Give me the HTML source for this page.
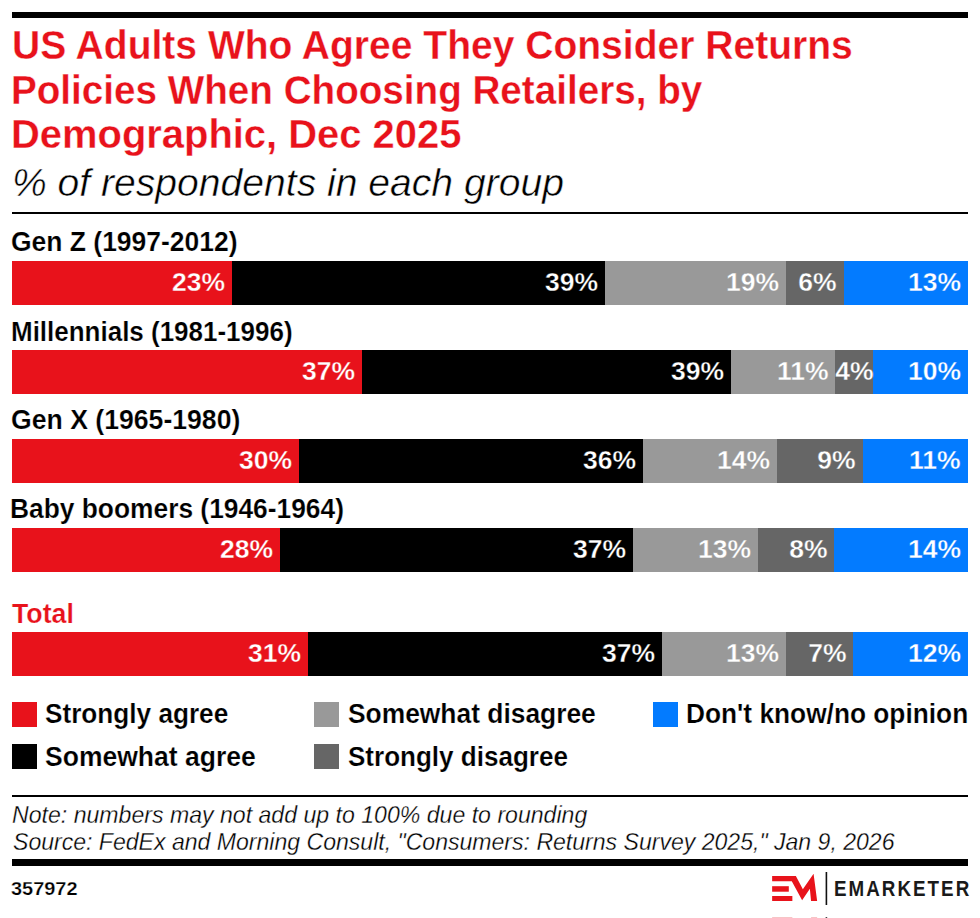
<!DOCTYPE html>
<html><head><meta charset="utf-8"><style>
html,body{margin:0;padding:0;background:#fff;}
body{width:980px;height:918px;position:relative;overflow:hidden;font-family:"Liberation Sans",sans-serif;}
.t{position:absolute;white-space:nowrap;line-height:1;}
.r{position:absolute;}
.p{position:absolute;box-sizing:border-box;color:#fff;font-weight:bold;display:flex;justify-content:flex-end;padding-right:8px;white-space:nowrap;}
.p span{display:block;}
</style></head><body>
<div class="r" style="left:12.00px;top:12.00px;width:956.00px;height:6.00px;background:#000000;"></div>
<div class="t" style="left:11.66px;top:25.26px;font-size:40px;font-weight:bold;font-style:normal;color:#e8121b;transform:scaleX(0.9758);transform-origin:0 0;-webkit-text-stroke:0.3px #fff;">US Adults Who Agree They Consider Returns</div>
<div class="t" style="left:11.41px;top:69.94px;font-size:40px;font-weight:bold;font-style:normal;color:#e8121b;transform:scaleX(0.9658);transform-origin:0 0;-webkit-text-stroke:0.3px #fff;">Policies When Choosing Retailers, by</div>
<div class="t" style="left:11.20px;top:114.34px;font-size:40px;font-weight:bold;font-style:normal;color:#e8121b;transform:scaleX(0.9979);transform-origin:0 0;-webkit-text-stroke:0.3px #fff;">Demographic, Dec 2025</div>
<div class="t" style="left:12.27px;top:164.36px;font-size:38.5px;font-weight:normal;font-style:italic;color:#000;transform:scaleX(1.0152);transform-origin:0 0;-webkit-text-stroke:0.5px #fff;">% of respondents in each group</div>
<div class="r" style="left:12.00px;top:212.00px;width:956.00px;height:1.60px;background:#000000;"></div>
<div class="t" style="left:11.12px;top:229.29px;font-size:27px;font-weight:bold;font-style:normal;color:#000;transform:scaleX(0.9800);transform-origin:0 0;-webkit-text-stroke:0.2px #fff;">Gen Z (1997-2012)</div>
<div class="r" style="left:12.00px;top:261.00px;width:219.88px;height:44.00px;background:#e8121b;"></div>
<div class="r" style="left:231.88px;top:261.00px;width:372.84px;height:44.00px;background:#000000;"></div>
<div class="r" style="left:604.72px;top:261.00px;width:181.64px;height:44.00px;background:#999999;"></div>
<div class="r" style="left:786.36px;top:261.00px;width:57.36px;height:44.00px;background:#666666;"></div>
<div class="r" style="left:843.72px;top:261.00px;width:124.28px;height:44.00px;background:#037bff;"></div>
<div class="p" style="left:12.00px;top:260px;width:219.88px;height:44px;font-size:26px;line-height:44px;justify-content:flex-end;padding-right:7px;"><span style="transform:scaleX(1.02);transform-origin:100% 50%;-webkit-text-stroke:0.35px #e8121b;">23%</span></div>
<div class="p" style="left:231.88px;top:260px;width:372.84px;height:44px;font-size:26px;line-height:44px;justify-content:flex-end;padding-right:7px;"><span style="transform:scaleX(1.02);transform-origin:100% 50%;-webkit-text-stroke:0.35px #000000;">39%</span></div>
<div class="p" style="left:604.72px;top:260px;width:181.64px;height:44px;font-size:26px;line-height:44px;justify-content:flex-end;padding-right:7px;"><span style="transform:scaleX(1.02);transform-origin:100% 50%;-webkit-text-stroke:0.35px #999999;">19%</span></div>
<div class="p" style="left:786.36px;top:260px;width:57.36px;height:44px;font-size:26px;line-height:44px;justify-content:flex-end;padding-right:7px;"><span style="transform:scaleX(1.02);transform-origin:100% 50%;-webkit-text-stroke:0.35px #666666;">6%</span></div>
<div class="p" style="left:843.72px;top:260px;width:124.28px;height:44px;font-size:26px;line-height:44px;justify-content:flex-end;padding-right:7px;"><span style="transform:scaleX(1.02);transform-origin:100% 50%;-webkit-text-stroke:0.35px #037bff;">13%</span></div>
<div class="t" style="left:10.50px;top:318.59px;font-size:27px;font-weight:bold;font-style:normal;color:#000;transform:scaleX(0.9621);transform-origin:0 0;-webkit-text-stroke:0.2px #fff;">Millennials (1981-1996)</div>
<div class="r" style="left:12.00px;top:350.00px;width:350.22px;height:44.00px;background:#e8121b;"></div>
<div class="r" style="left:362.22px;top:350.00px;width:369.15px;height:44.00px;background:#000000;"></div>
<div class="r" style="left:731.37px;top:350.00px;width:104.12px;height:44.00px;background:#999999;"></div>
<div class="r" style="left:835.49px;top:350.00px;width:37.86px;height:44.00px;background:#666666;"></div>
<div class="r" style="left:873.35px;top:350.00px;width:94.65px;height:44.00px;background:#037bff;"></div>
<div class="p" style="left:12.00px;top:349px;width:350.22px;height:44px;font-size:26px;line-height:44px;justify-content:flex-end;padding-right:7px;"><span style="transform:scaleX(1.02);transform-origin:100% 50%;-webkit-text-stroke:0.35px #e8121b;">37%</span></div>
<div class="p" style="left:362.22px;top:349px;width:369.15px;height:44px;font-size:26px;line-height:44px;justify-content:flex-end;padding-right:7px;"><span style="transform:scaleX(1.02);transform-origin:100% 50%;-webkit-text-stroke:0.35px #000000;">39%</span></div>
<div class="p" style="left:731.37px;top:349px;width:104.12px;height:44px;font-size:26px;line-height:44px;justify-content:flex-end;padding-right:7px;"><span style="transform:scaleX(1.02);transform-origin:100% 50%;-webkit-text-stroke:0.35px #999999;">11%</span></div>
<div class="p" style="left:835.49px;top:349px;width:37.86px;height:44px;font-size:26px;line-height:44px;justify-content:center;padding-right:0px;"><span style="transform:scaleX(1.02);transform-origin:100% 50%;-webkit-text-stroke:0.35px #666666;">4%</span></div>
<div class="p" style="left:873.35px;top:349px;width:94.65px;height:44px;font-size:26px;line-height:44px;justify-content:flex-end;padding-right:7px;"><span style="transform:scaleX(1.02);transform-origin:100% 50%;-webkit-text-stroke:0.35px #037bff;">10%</span></div>
<div class="t" style="left:11.12px;top:406.54px;font-size:27px;font-weight:bold;font-style:normal;color:#000;transform:scaleX(0.9858);transform-origin:0 0;-webkit-text-stroke:0.2px #fff;">Gen X (1965-1980)</div>
<div class="r" style="left:12.00px;top:439.00px;width:286.80px;height:44.00px;background:#e8121b;"></div>
<div class="r" style="left:298.80px;top:439.00px;width:344.16px;height:44.00px;background:#000000;"></div>
<div class="r" style="left:642.96px;top:439.00px;width:133.84px;height:44.00px;background:#999999;"></div>
<div class="r" style="left:776.80px;top:439.00px;width:86.04px;height:44.00px;background:#666666;"></div>
<div class="r" style="left:862.84px;top:439.00px;width:105.16px;height:44.00px;background:#037bff;"></div>
<div class="p" style="left:12.00px;top:438px;width:286.80px;height:44px;font-size:26px;line-height:44px;justify-content:flex-end;padding-right:7px;"><span style="transform:scaleX(1.02);transform-origin:100% 50%;-webkit-text-stroke:0.35px #e8121b;">30%</span></div>
<div class="p" style="left:298.80px;top:438px;width:344.16px;height:44px;font-size:26px;line-height:44px;justify-content:flex-end;padding-right:7px;"><span style="transform:scaleX(1.02);transform-origin:100% 50%;-webkit-text-stroke:0.35px #000000;">36%</span></div>
<div class="p" style="left:642.96px;top:438px;width:133.84px;height:44px;font-size:26px;line-height:44px;justify-content:flex-end;padding-right:7px;"><span style="transform:scaleX(1.02);transform-origin:100% 50%;-webkit-text-stroke:0.35px #999999;">14%</span></div>
<div class="p" style="left:776.80px;top:438px;width:86.04px;height:44px;font-size:26px;line-height:44px;justify-content:flex-end;padding-right:7px;"><span style="transform:scaleX(1.02);transform-origin:100% 50%;-webkit-text-stroke:0.35px #666666;">9%</span></div>
<div class="p" style="left:862.84px;top:438px;width:105.16px;height:44px;font-size:26px;line-height:44px;justify-content:flex-end;padding-right:7px;"><span style="transform:scaleX(1.02);transform-origin:100% 50%;-webkit-text-stroke:0.35px #037bff;">11%</span></div>
<div class="t" style="left:10.35px;top:495.54px;font-size:27px;font-weight:bold;font-style:normal;color:#000;transform:scaleX(0.9760);transform-origin:0 0;-webkit-text-stroke:0.2px #fff;">Baby boomers (1946-1964)</div>
<div class="r" style="left:12.00px;top:528.00px;width:267.68px;height:44.00px;background:#e8121b;"></div>
<div class="r" style="left:279.68px;top:528.00px;width:353.72px;height:44.00px;background:#000000;"></div>
<div class="r" style="left:633.40px;top:528.00px;width:124.28px;height:44.00px;background:#999999;"></div>
<div class="r" style="left:757.68px;top:528.00px;width:76.48px;height:44.00px;background:#666666;"></div>
<div class="r" style="left:834.16px;top:528.00px;width:133.84px;height:44.00px;background:#037bff;"></div>
<div class="p" style="left:12.00px;top:527px;width:267.68px;height:44px;font-size:26px;line-height:44px;justify-content:flex-end;padding-right:7px;"><span style="transform:scaleX(1.02);transform-origin:100% 50%;-webkit-text-stroke:0.35px #e8121b;">28%</span></div>
<div class="p" style="left:279.68px;top:527px;width:353.72px;height:44px;font-size:26px;line-height:44px;justify-content:flex-end;padding-right:7px;"><span style="transform:scaleX(1.02);transform-origin:100% 50%;-webkit-text-stroke:0.35px #000000;">37%</span></div>
<div class="p" style="left:633.40px;top:527px;width:124.28px;height:44px;font-size:26px;line-height:44px;justify-content:flex-end;padding-right:7px;"><span style="transform:scaleX(1.02);transform-origin:100% 50%;-webkit-text-stroke:0.35px #999999;">13%</span></div>
<div class="p" style="left:757.68px;top:527px;width:76.48px;height:44px;font-size:26px;line-height:44px;justify-content:flex-end;padding-right:7px;"><span style="transform:scaleX(1.02);transform-origin:100% 50%;-webkit-text-stroke:0.35px #666666;">8%</span></div>
<div class="p" style="left:834.16px;top:527px;width:133.84px;height:44px;font-size:26px;line-height:44px;justify-content:flex-end;padding-right:7px;"><span style="transform:scaleX(1.02);transform-origin:100% 50%;-webkit-text-stroke:0.35px #037bff;">14%</span></div>
<div class="t" style="left:12.13px;top:600.53px;font-size:27px;font-weight:bold;font-style:normal;color:#e8121b;transform:scaleX(0.9897);transform-origin:0 0;-webkit-text-stroke:0.2px #fff;">Total</div>
<div class="r" style="left:12.00px;top:632.00px;width:296.36px;height:44.00px;background:#e8121b;"></div>
<div class="r" style="left:308.36px;top:632.00px;width:353.72px;height:44.00px;background:#000000;"></div>
<div class="r" style="left:662.08px;top:632.00px;width:124.28px;height:44.00px;background:#999999;"></div>
<div class="r" style="left:786.36px;top:632.00px;width:66.92px;height:44.00px;background:#666666;"></div>
<div class="r" style="left:853.28px;top:632.00px;width:114.72px;height:44.00px;background:#037bff;"></div>
<div class="p" style="left:12.00px;top:631px;width:296.36px;height:44px;font-size:26px;line-height:44px;justify-content:flex-end;padding-right:7px;"><span style="transform:scaleX(1.02);transform-origin:100% 50%;-webkit-text-stroke:0.35px #e8121b;">31%</span></div>
<div class="p" style="left:308.36px;top:631px;width:353.72px;height:44px;font-size:26px;line-height:44px;justify-content:flex-end;padding-right:7px;"><span style="transform:scaleX(1.02);transform-origin:100% 50%;-webkit-text-stroke:0.35px #000000;">37%</span></div>
<div class="p" style="left:662.08px;top:631px;width:124.28px;height:44px;font-size:26px;line-height:44px;justify-content:flex-end;padding-right:7px;"><span style="transform:scaleX(1.02);transform-origin:100% 50%;-webkit-text-stroke:0.35px #999999;">13%</span></div>
<div class="p" style="left:786.36px;top:631px;width:66.92px;height:44px;font-size:26px;line-height:44px;justify-content:flex-end;padding-right:7px;"><span style="transform:scaleX(1.02);transform-origin:100% 50%;-webkit-text-stroke:0.35px #666666;">7%</span></div>
<div class="p" style="left:853.28px;top:631px;width:114.72px;height:44px;font-size:26px;line-height:44px;justify-content:flex-end;padding-right:7px;"><span style="transform:scaleX(1.02);transform-origin:100% 50%;-webkit-text-stroke:0.35px #037bff;">12%</span></div>
<div class="r" style="left:12.00px;top:702.00px;width:24.50px;height:24.50px;background:#e8121b;"></div>
<div class="t" style="left:45.44px;top:700.54px;font-size:27px;font-weight:bold;font-style:normal;color:#000;transform:scaleX(0.9692);transform-origin:0 0;-webkit-text-stroke:0.2px #fff;">Strongly agree</div>
<div class="r" style="left:12.00px;top:744.00px;width:24.50px;height:24.50px;background:#000000;"></div>
<div class="t" style="left:45.44px;top:743.64px;font-size:27px;font-weight:bold;font-style:normal;color:#000;transform:scaleX(0.9819);transform-origin:0 0;-webkit-text-stroke:0.2px #fff;">Somewhat agree</div>
<div class="r" style="left:314.00px;top:702.00px;width:24.50px;height:24.50px;background:#999999;"></div>
<div class="t" style="left:347.64px;top:700.54px;font-size:27px;font-weight:bold;font-style:normal;color:#000;transform:scaleX(0.9771);transform-origin:0 0;-webkit-text-stroke:0.2px #fff;">Somewhat disagree</div>
<div class="r" style="left:314.00px;top:744.00px;width:24.50px;height:24.50px;background:#666666;"></div>
<div class="t" style="left:347.64px;top:743.64px;font-size:27px;font-weight:bold;font-style:normal;color:#000;transform:scaleX(0.9642);transform-origin:0 0;-webkit-text-stroke:0.2px #fff;">Strongly disagree</div>
<div class="r" style="left:653.00px;top:702.00px;width:24.50px;height:24.50px;background:#037bff;"></div>
<div class="t" style="left:686.35px;top:700.54px;font-size:27px;font-weight:bold;font-style:normal;color:#000;transform:scaleX(0.9736);transform-origin:0 0;-webkit-text-stroke:0.2px #fff;">Don't know/no opinion</div>
<div class="r" style="left:12.00px;top:795.20px;width:956.00px;height:1.80px;background:#000000;"></div>
<div class="t" style="left:12.42px;top:803.53px;font-size:23px;font-weight:normal;font-style:italic;color:#000;transform:scaleX(1.0043);transform-origin:0 0;-webkit-text-stroke:0.3px #fff;">Note: numbers may not add up to 100% due to rounding</div>
<div class="t" style="left:12.51px;top:830.53px;font-size:23px;font-weight:normal;font-style:italic;color:#000;transform:scaleX(1.0025);transform-origin:0 0;-webkit-text-stroke:0.3px #fff;">Source: FedEx and Morning Consult, "Consumers: Returns Survey 2025," Jan 9, 2026</div>
<div class="r" style="left:12.00px;top:859.00px;width:956.00px;height:6.50px;background:#000000;"></div>
<div class="t" style="left:11.44px;top:879.84px;font-size:18.5px;font-weight:bold;font-style:normal;color:#000;transform:scaleX(1.0782);transform-origin:0 0;-webkit-text-stroke:0.25px #fff;">357972</div>
<svg class="r" style="left:0;top:0;width:980px;height:918px" width="980" height="918" viewBox="0 0 980 918">
<path fill="#e8131b" d="M772.14 876 L795.86 876 L802.86 889.2 L813.57 873.86 L817.14 901 L811.07 901 L809.86 888.86 L802.14 900.14 L791.79 881.36 L772.14 881.36 Z"/>
<rect fill="#e8131b" x="772.14" y="886.2" width="16.66" height="5.5"/>
<rect fill="#e8131b" x="772.14" y="896" width="20.22" height="5"/>
<rect fill="#111" x="825.6" y="872" width="1.6" height="33"/>
<rect fill="#f7c4c6" x="772.14" y="917" width="20.22" height="1"/>
<rect fill="#f7c4c6" x="811.07" y="917" width="6.07" height="1"/>
<rect fill="#444" x="825.6" y="917" width="1.6" height="1"/>
</svg>
<div class="t" style="left:833.75px;top:878.87px;font-size:21.3px;font-weight:bold;font-style:normal;color:#1a1a1a;transform:scaleX(0.8820);transform-origin:0 0;letter-spacing:2.3px;">EMARKETER</div>
</body></html>
